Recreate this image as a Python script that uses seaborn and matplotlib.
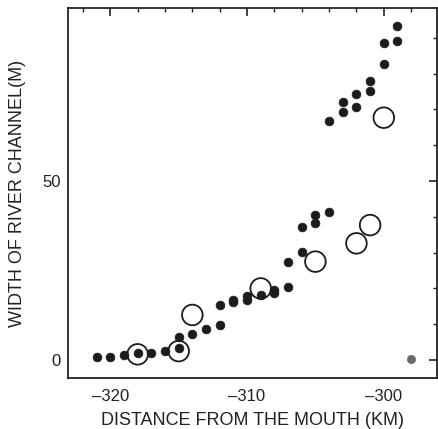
import matplotlib

matplotlib.use("Agg")
import matplotlib.pyplot as plt
import pandas as pd
import seaborn as sns
from matplotlib.ticker import MultipleLocator

# filled dots: measured channel width
FILLED_KM = [
    -321, -320, -319, -318, -317, -316, -315, -315, -314, -313, -312, -312,
    -311, -311, -310, -310, -309, -308, -308, -307, -307, -306, -306, -305,
    -305, -304, -304, -303, -303, -302, -302, -301, -301, -300, -300, -299, -299,
]
FILLED_WIDTH = [
    0.9, 0.9, 1.4, 1.9, 1.9, 2.5, 6.5, 3.3, 7.4, 8.6, 9.8, 15.5,
    16.9, 16.3, 17.9, 16.8, 18.2, 19.6, 18.6, 20.5, 27.5, 30.1, 37.1, 38.4,
    40.5, 41.4, 66.9, 69.2, 72.2, 70.6, 74.3, 75.2, 77.9, 82.7, 88.7, 89.1, 93.3,
]

# open circles
OPEN_KM = [-318, -315, -314, -309, -305, -302, -301, -300]
OPEN_WIDTH = [1.6, 2.5, 12.6, 20.0, 27.5, 32.6, 37.7, 67.7]

# grey dot near the mouth side
GREY_KM = [-298]
GREY_WIDTH = [0.2]


def main() -> None:
    sns.set_theme(style="white")
    plt.rcParams["font.family"] = ["Liberation Sans", "DejaVu Sans"]

    filled = pd.DataFrame({"km": FILLED_KM, "width": FILLED_WIDTH})
    opened = pd.DataFrame({"km": OPEN_KM, "width": OPEN_WIDTH})
    grey = pd.DataFrame({"km": GREY_KM, "width": GREY_WIDTH})

    fig = plt.figure(figsize=(4.38, 4.29), dpi=100)
    ax = fig.add_axes([0.155, 0.119, 0.843, 0.862])

    sns.scatterplot(data=filled, x="km", y="width", ax=ax, s=40,
                    color="#1c1c1c", edgecolor="#1c1c1c", linewidth=0.5)
    sns.scatterplot(data=opened, x="km", y="width", ax=ax, s=220,
                    facecolor="none", edgecolor="#1c1c1c", linewidth=1.3)
    sns.scatterplot(data=grey, x="km", y="width", ax=ax, s=35,
                    color="#6a6a6a", edgecolor="#6a6a6a", linewidth=0.5)

    ax.set_xlim(-323.1, -296.1)
    ax.set_ylim(-5, 98.3)
    ax.xaxis.set_minor_locator(MultipleLocator(2))
    ax.yaxis.set_major_locator(MultipleLocator(50))
    ax.yaxis.set_minor_locator(MultipleLocator(10))
    ax.set_xticks([-320, -310, -300])
    ax.set_xticklabels(["\u2013320", "\u2013310", "\u2013300"])

    ax.tick_params(which="both", direction="in", top=True, right=True,
                   labelsize=12, colors="#222222")
    ax.tick_params(axis="x", pad=8)
    ax.tick_params(axis="y", pad=5)
    ax.tick_params(which="major", length=6, width=1.2)
    ax.tick_params(which="minor", length=3, width=1.0)
    for spine in ax.spines.values():
        spine.set_color("#222222")
        spine.set_linewidth(1.3)

    ax.set_xlabel("DISTANCE FROM THE MOUTH (KM)", fontsize=13, color="#222222", labelpad=6)
    ax.set_ylabel("WIDTH OF RIVER CHANNEL(M)", fontsize=13, color="#222222", labelpad=12)

    fig.savefig("out.png", dpi=100)
    plt.close(fig)


if __name__ == "__main__":
    main()
